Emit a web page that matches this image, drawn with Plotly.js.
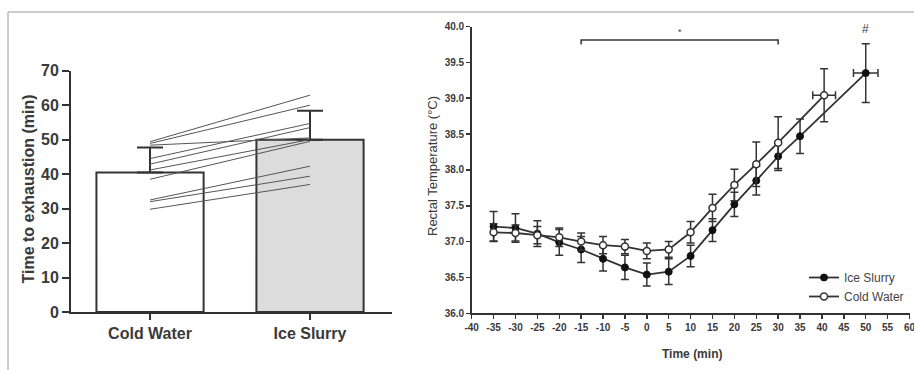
<!DOCTYPE html>
<html><head><meta charset="utf-8">
<script src="https://cdn.plot.ly/plotly-3.0.1.min.js"></script>
<style>html,body{margin:0;padding:0;background:#fff}#chart{width:914px;height:370px}</style>
</head><body><div id="chart"></div>
<script>
// ---- Left panel data ----
const groups = ['Cold Water', 'Ice Slurry'];
const meanTime = [40.5, 50.0];
const errTime = [7.2, 8.4];
const subjCold = [49.4, 48.9, 48.4, 44.5, 42.9, 41.2, 38.5, 32.5, 32.0, 29.8];
const subjIce  = [62.9, 60.0, 50.5, 54.7, 53.5, 50.0, 49.5, 42.3, 39.4, 37.0];
const leftTicks = [0, 10, 20, 30, 40, 50, 60, 70];

// ---- Right panel data ----
const isTime = [-35, -30, -25, -20, -15, -10, -5, 0, 5, 10, 15, 20, 25, 30, 35, 50];
const isTemp = [37.21, 37.19, 37.11, 36.99, 36.89, 36.76, 36.64, 36.54, 36.58, 36.80, 37.16, 37.52, 37.85, 38.19, 38.47, 39.35];
const isErr  = [0.21, 0.20, 0.18, 0.18, 0.18, 0.17, 0.17, 0.16, 0.18, 0.15, 0.16, 0.17, 0.20, 0.20, 0.24, 0.41];
const isTimeErr = [null, null, null, null, null, null, null, null, null, null, null, null, null, null, null, 2.8];

const cwTime = [-35, -30, -25, -20, -15, -10, -5, 0, 5, 10, 15, 20, 25, 30, 40.5];
const cwTemp = [37.13, 37.12, 37.09, 37.06, 37.00, 36.95, 36.93, 36.87, 36.89, 37.13, 37.47, 37.79, 38.08, 38.38, 39.04];
const cwErr  = [0.12, 0.11, 0.12, 0.13, 0.12, 0.12, 0.10, 0.11, 0.11, 0.15, 0.19, 0.22, 0.31, 0.36, 0.37];
const cwTimeErr = [null, null, null, null, null, null, null, null, null, null, null, null, null, null, 2.6];

const timeTicks = [-40, -35, -30, -25, -20, -15, -10, -5, 0, 5, 10, 15, 20, 25, 30, 35, 40, 45, 50, 55, 60];
const tempTicks = [36.0, 36.5, 37.0, 37.5, 38.0, 38.5, 39.0, 39.5, 40.0];
const bracketTimes = [-15, 30];
const bracketLevel = 39.81;
const hashPoint = [50, 39.97];

// ---- helpers ----
const W = 914, H = 370;
const dx = p => p / W;
const dy = p => (H - p) / H;
const INK = '#333333';
const TXT = '#3a3a3a';
const boldFont = 'Liberation Sans Narrow, Arial Narrow, Liberation Sans, Arial, sans-serif';
const regFont = 'Liberation Sans, Arial, sans-serif';

const subjX = [], subjY = [];
for (let i = 0; i < subjCold.length; i++) {
  subjX.push(groups[0], groups[1], null);
  subjY.push(subjCold[i], subjIce[i], null);
}

const traces = [
  {
    type: 'bar', x: groups, y: meanTime, xaxis: 'x', yaxis: 'y', width: 0.67,
    marker: {color: ['#ffffff', '#dcdcdc'], line: {color: INK, width: 2}},
    error_y: {type: 'data', symmetric: false, array: errTime, arrayminus: [0, 0], color: INK, thickness: 2, width: 13},
    showlegend: false, hoverinfo: 'skip'
  },
  {
    type: 'scatter', mode: 'lines', x: subjX, y: subjY, xaxis: 'x', yaxis: 'y',
    line: {color: '#555555', width: 1}, connectgaps: false, showlegend: false, hoverinfo: 'skip'
  },
  {
    type: 'scatter', mode: 'lines+markers', name: 'Ice Slurry', x: isTime, y: isTemp, xaxis: 'x2', yaxis: 'y2',
    line: {color: INK, width: 1.8},
    marker: {symbol: 'circle', size: 7, color: '#111111', line: {color: '#111111', width: 1}},
    error_y: {type: 'data', array: isErr, color: INK, thickness: 1.5, width: 4},
    error_x: {type: 'data', array: isTimeErr, color: INK, thickness: 1.5, width: 4},
    cliponaxis: false
  },
  {
    type: 'scatter', mode: 'lines+markers', name: 'Cold Water', x: cwTime, y: cwTemp, xaxis: 'x2', yaxis: 'y2',
    line: {color: INK, width: 1.8},
    marker: {symbol: 'circle', size: 7, color: '#ffffff', line: {color: INK, width: 1.5}},
    error_y: {type: 'data', array: cwErr, color: INK, thickness: 1.5, width: 4},
    error_x: {type: 'data', array: cwTimeErr, color: INK, thickness: 1.5, width: 4},
    cliponaxis: false
  }
];

const layout = {
  width: W, height: H, margin: {l: 0, r: 0, t: 0, b: 0},
  paper_bgcolor: '#ffffff', plot_bgcolor: 'rgba(0,0,0,0)',
  showlegend: true,
  legend: {x: dx(804), y: dy(263), xanchor: 'left', yanchor: 'top', bgcolor: 'rgba(0,0,0,0)',
           font: {family: regFont, size: 12, color: '#444'}, itemwidth: 30, tracegroupgap: 0},
  xaxis: {
    domain: [dx(71), dx(392)], anchor: 'y', type: 'category', range: [-0.494, 1.5125],
    showline: true, linecolor: INK, linewidth: 2, ticks: 'outside', ticklen: 6, tickwidth: 2, tickcolor: INK,
    showgrid: false, zeroline: false, fixedrange: true,
    tickfont: {family: boldFont, size: 16, color: TXT, weight: 'bold'}
  },
  yaxis: {
    domain: [dy(312), dy(70.7)], anchor: 'x', range: [0, 70], tickvals: leftTicks,
    showline: true, linecolor: INK, linewidth: 2, ticks: 'outside', ticklen: 7, tickwidth: 2, tickcolor: INK,
    showgrid: false, zeroline: false, fixedrange: true,
    tickfont: {family: boldFont, size: 16, color: TXT, weight: 'bold'}
  },
  xaxis2: {
    domain: [dx(471.7), dx(909.5)], anchor: 'y2', range: [-40, 60],
    tickvals: timeTicks, ticktext: timeTicks.map(String), ticklabeloverflow: 'allow',
    showline: true, linecolor: INK, linewidth: 1.5, ticks: 'outside', ticklen: 4, tickwidth: 1.5, tickcolor: INK,
    showgrid: false, zeroline: false, fixedrange: true,
    tickfont: {family: regFont, size: 10, color: TXT, weight: 'bold'}
  },
  yaxis2: {
    domain: [dy(313.3), dy(26.5)], anchor: 'x2', range: [36, 40],
    tickvals: tempTicks, tickformat: '.1f',
    showline: true, linecolor: INK, linewidth: 1.5, ticks: 'outside', ticklen: 4, tickwidth: 1.5, tickcolor: INK,
    showgrid: false, zeroline: false, fixedrange: true,
    tickfont: {family: regFont, size: 10, color: TXT, weight: 'bold'}
  },
  shapes: [
    {type: 'line', xref: 'paper', yref: 'paper', x0: dx(8), x1: 1, y0: dy(12), y1: dy(12), line: {color: '#9a9a9a', width: 1}},
    {type: 'line', xref: 'paper', yref: 'paper', x0: dx(8), x1: dx(8), y0: dy(12), y1: 0, line: {color: '#9a9a9a', width: 1}},
    {type: 'path', xref: 'x2', yref: 'y2',
     path: `M ${bracketTimes[0]} ${bracketLevel - 0.06} L ${bracketTimes[0]} ${bracketLevel} L ${bracketTimes[1]} ${bracketLevel} L ${bracketTimes[1]} ${bracketLevel - 0.06}`,
     line: {color: INK, width: 1.5}}
  ],
  annotations: [
    {text: 'Time to exhaustion (min)', xref: 'paper', yref: 'paper', x: dx(27.5), y: dy(189), textangle: -90,
     showarrow: false, xanchor: 'center', yanchor: 'middle', font: {family: boldFont, size: 16, color: TXT, weight: 'bold'}},
    {text: '*', xref: 'x', yref: 'y', x: groups[1], y: 70.1, showarrow: false, yanchor: 'middle',
     font: {family: regFont, size: 9, color: TXT}},
    {text: 'Rectal Temperature (°C)', xref: 'paper', yref: 'paper', x: dx(432), y: dy(166), textangle: -90,
     showarrow: false, xanchor: 'center', yanchor: 'middle', font: {family: regFont, size: 13, color: TXT}},
    {text: 'Time (min)', xref: 'paper', yref: 'paper', x: dx(692), y: dy(354), showarrow: false,
     xanchor: 'center', yanchor: 'middle', font: {family: regFont, size: 12, color: TXT, weight: 'bold'}},
    {text: '*', xref: 'x2', yref: 'y2', x: (bracketTimes[0] + bracketTimes[1]) / 2, y: bracketLevel + 0.11, showarrow: false,
     yanchor: 'middle', font: {family: regFont, size: 9, color: TXT}},
    {text: '#', xref: 'x2', yref: 'y2', x: hashPoint[0], y: hashPoint[1], showarrow: false,
     yanchor: 'middle', font: {family: regFont, size: 12, color: TXT}}
  ]
};

Plotly.newPlot('chart', traces, layout, {staticPlot: true, displayModeBar: false});
</script>
</body></html>
